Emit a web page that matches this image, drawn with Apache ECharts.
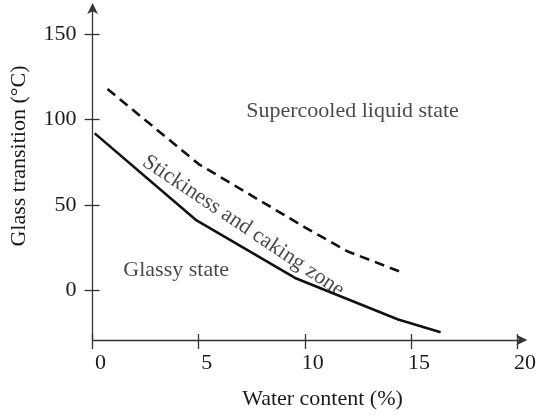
<!DOCTYPE html>
<html>
<head>
<meta charset="utf-8">
<script src="https://cdn.jsdelivr.net/npm/echarts@6/dist/echarts.min.js"></script>
<style>html,body{margin:0;padding:0;background:#fff}#c{width:539px;height:415px}</style>
</head>
<body>
<div id="c"></div>
<script>
// Data
var xTicks = [0, 5, 10, 15, 20];
var yTicks = [0, 50, 100, 150];
var solidX = [0.1, 4.9, 9.6, 14.4, 16.4];
var solidY = [92, 41, 7, -17, -24.5];
var dashX = [0.7, 5, 10, 12, 14.7];
var dashY = [118, 74, 37, 23, 10];
var notes = [
  {name: 'Supercooled liquid state', x: 12.25, y: 105, rot: 0},
  {name: 'Glassy state', x: 3.94, y: 12, rot: 0},
  {name: 'Stickiness and caking zone', x: 7.1, y: 37.8, rot: -33.8}
];
var xTitle = 'Water content (%)';
var yTitle = 'Glass transition (°C)';

var FONT = "'Liberation Serif', 'Times New Roman', serif";
var INK = '#1a1a1a';
var AX = '#333';
function zip(a, b) { return a.map(function (v, i) { return [v, b[i]]; }); }

var chart = echarts.init(document.getElementById('c'), null, {renderer: 'canvas'});
var baseX = {
  type: 'value', min: 0, max: 20.3, position: 'bottom', gridIndex: 0,
  splitLine: {show: false}
};
var baseY = {
  type: 'value', min: -29, max: 166, position: 'left', gridIndex: 0,
  splitLine: {show: false}
};
chart.setOption({
  animation: false,
  grid: {left: 92.6, right: 14, top: 7, bottom: 72.4, containLabel: false},
  xAxis: [
    Object.assign({}, baseX, {
      name: xTitle, nameLocation: 'middle', nameGap: 48,
      nameTextStyle: {fontFamily: FONT, fontSize: 22, color: INK, padding: [0, 0, 0, 29]},
      axisLine: {show: true, onZero: false, lineStyle: {color: AX, width: 1.3}, symbol: ['none', 'arrow'], symbolSize: [8, 11], symbolOffset: [0, 4]},
      axisTick: {show: true, inside: false, length: 9, lineStyle: {color: AX, width: 1.3}, customValues: xTicks},
      axisLabel: {show: true, customValues: xTicks, margin: 12, fontFamily: FONT, fontSize: 22, color: INK, padding: [0, 0, 0, 16]}
    }),
    Object.assign({}, baseX, {
      axisLine: {show: false, onZero: false},
      axisTick: {show: true, inside: true, length: 6, lineStyle: {color: AX, width: 1.3}, customValues: xTicks},
      axisLabel: {show: false}
    })
  ],
  yAxis: [
    Object.assign({}, baseY, {
      name: yTitle, nameLocation: 'middle', nameGap: 62, nameRotate: 90,
      nameTextStyle: {fontFamily: FONT, fontSize: 22, color: INK, padding: [0, 0, 0, 35]},
      axisLine: {show: true, onZero: false, lineStyle: {color: AX, width: 1.3}, symbol: ['none', 'arrow'], symbolSize: [8, 11], symbolOffset: [0, 4]},
      axisTick: {show: true, inside: false, length: 8, lineStyle: {color: AX, width: 1.3}, customValues: yTicks},
      axisLabel: {show: true, customValues: yTicks, margin: 16, fontFamily: FONT, fontSize: 22, color: INK}
    }),
    Object.assign({}, baseY, {
      axisLine: {show: false, onZero: false},
      axisTick: {show: true, inside: true, length: 7, lineStyle: {color: AX, width: 1.3}, customValues: yTicks},
      axisLabel: {show: false}
    })
  ],
  series: [
    {
      type: 'line', xAxisIndex: 0, yAxisIndex: 0, data: zip(solidX, solidY),
      showSymbol: false, symbol: 'none', lineStyle: {color: '#111', width: 2.6}, z: 3
    },
    {
      type: 'line', xAxisIndex: 0, yAxisIndex: 0, data: zip(dashX, dashY),
      showSymbol: false, symbol: 'none', lineStyle: {color: '#111', width: 2.6, type: [10, 6]}, z: 3
    },
    {
      type: 'scatter', xAxisIndex: 0, yAxisIndex: 0, symbolSize: 0, silent: true,
      data: notes.map(function (n) {
        return {name: n.name, value: [n.x, n.y], label: {rotate: n.rot}};
      }),
      label: {show: true, position: 'inside', formatter: '{b}', fontFamily: FONT, fontSize: 22, color: INK},
      z: 4
    }
  ]
});
</script>
</body>
</html>
